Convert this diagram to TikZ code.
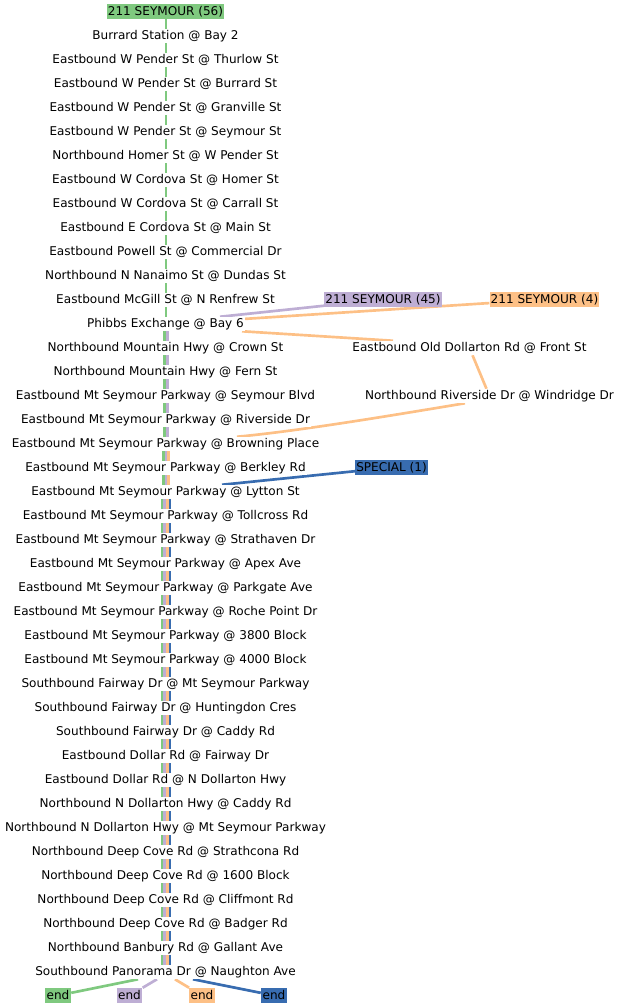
\documentclass[tikz,border=0pt]{standalone}
\usepackage{fontspec}
\setmainfont{DejaVu Sans}
\usetikzlibrary{positioning,backgrounds}
\definecolor{routegreen}{HTML}{7FC97F}
\definecolor{routepurple}{HTML}{BEAED4}
\definecolor{routeorange}{HTML}{FDC086}
\definecolor{routeblue}{HTML}{386CB0}
\tikzset{
    stopbox/.style={
        rectangle,
        fill=white,               % hides the route lines behind the text
        inner xsep=0.75pt,
        inner ysep=0pt,
        text height=7.5pt,
        text depth=3pt,
        font=\fontsize{9.05pt}{10pt}\selectfont
    },
    tagbox/.style={
        stopbox,
        text height=8.25pt,
        fill=#1
    },
    route/.style={
        draw=#1,
        line width=2pt
    }
}
\begin{document}
\begin{tikzpicture}[x=0.75pt,y=0.75pt]
    \useasboundingbox (0,0) rectangle (620,-1008);

    \node[tagbox=routegreen] (tagmain) at (165.5,-11.5) {211 SEYMOUR (56)};
    \foreach \stopname [count=\i] in {
        Burrard Station @ Bay 2,
        Eastbound W Pender St @ Thurlow St,
        Eastbound W Pender St @ Burrard St,
        Eastbound W Pender St @ Granville St,
        Eastbound W Pender St @ Seymour St,
        Northbound Homer St @ W Pender St,
        Eastbound W Cordova St @ Homer St,
        Eastbound W Cordova St @ Carrall St,
        Eastbound E Cordova St @ Main St,
        Eastbound Powell St @ Commercial Dr,
        Northbound N Nanaimo St @ Dundas St,
        Eastbound McGill St @ N Renfrew St,
        Phibbs Exchange @ Bay 6,
        Northbound Mountain Hwy @ Crown St,
        Northbound Mountain Hwy @ Fern St,
        Eastbound Mt Seymour Parkway @ Seymour Blvd,
        Eastbound Mt Seymour Parkway @ Riverside Dr,
        Eastbound Mt Seymour Parkway @ Browning Place,
        Eastbound Mt Seymour Parkway @ Berkley Rd,
        Eastbound Mt Seymour Parkway @ Lytton St,
        Eastbound Mt Seymour Parkway @ Tollcross Rd,
        Eastbound Mt Seymour Parkway @ Strathaven Dr,
        Eastbound Mt Seymour Parkway @ Apex Ave,
        Eastbound Mt Seymour Parkway @ Parkgate Ave,
        Eastbound Mt Seymour Parkway @ Roche Point Dr,
        Eastbound Mt Seymour Parkway @ 3800 Block,
        Eastbound Mt Seymour Parkway @ 4000 Block,
        Southbound Fairway Dr @ Mt Seymour Parkway,
        Southbound Fairway Dr @ Huntingdon Cres,
        Southbound Fairway Dr @ Caddy Rd,
        Eastbound Dollar Rd @ Fairway Dr,
        Eastbound Dollar Rd @ N Dollarton Hwy,
        Northbound N Dollarton Hwy @ Caddy Rd,
        Northbound N Dollarton Hwy @ Mt Seymour Parkway,
        Northbound Deep Cove Rd @ Strathcona Rd,
        Northbound Deep Cove Rd @ 1600 Block,
        Northbound Deep Cove Rd @ Cliffmont Rd,
        Northbound Deep Cove Rd @ Badger Rd,
        Northbound Banbury Rd @ Gallant Ave,
        Southbound Panorama Dr @ Naughton Ave}
        \node[stopbox] (stop\i) at (165.5,{-12-24*\i}) {\stopname};

    \node[tagbox=routepurple] (tagpurple) at (383,-299.5) {211 SEYMOUR (45)};
    \node[tagbox=routeorange] (tagorange) at (544.5,-299.5) {211 SEYMOUR (4)};
    \node[tagbox=routeblue] (tagblue) at (391.5,-467.5) {SPECIAL (1)};
    \node[stopbox] (dollarton) at (469.5,-348) {Eastbound Old Dollarton Rd @ Front St};
    \node[stopbox] (riverside) at (489.5,-396) {Northbound Riverside Dr @ Windridge Dr};

    \node[tagbox=routegreen, inner xsep=1.2pt] (endgreen) at (58,-995.5) {end};
    \node[tagbox=routepurple, inner xsep=1.2pt] (endpurple) at (129.5,-995.5) {end};
    \node[tagbox=routeorange, inner xsep=1.2pt] (endorange) at (202,-995.5) {end};
    \node[tagbox=routeblue, inner xsep=1.2pt] (endblue) at (274,-995.5) {end};

    \begin{scope}[on background layer]
        \draw[route=routegreen] ([xshift=0.4pt]tagmain.south) -- ([xshift=0.4pt]stop1.north);
        % runs of the shared trunk, side by side
        \foreach \first/\last/\col/\off in {
            1/12/routegreen/0.4, 13/17/routegreen/-0.6, 18/19/routegreen/-1.6, 20/39/routegreen/-2.6,
            13/17/routepurple/1.4, 18/19/routepurple/0.4, 20/39/routepurple/-0.6,
            18/19/routeorange/2.4, 20/39/routeorange/1.4,
            20/39/routeblue/3.4} {
            \foreach \i in {\first,...,\last} {
                \pgfmathtruncatemacro{\j}{\i+1}
                \draw[route=\col] ([xshift=\off pt]stop\i.south) -- ([xshift=\off pt]stop\j.north);
            }
        }
        \draw[route=routepurple] ([xshift=40.9pt]stop13.north) -- (tagpurple);
        \draw[route=routeorange] (tagorange) -- (stop13);
        \draw[route=routeorange] ([xshift=57.4pt]stop13.south) -- ([xshift=-57.4pt]dollarton.north);
        \draw[route=routeorange] (dollarton) -- (riverside);
        \draw[route=routeorange] ([xshift=-18.4pt]riverside.south) .. controls (400,-414) and (300,-431) .. ([xshift=53.6pt]stop18.north);
        \draw[route=routeblue] (tagblue) -- ([xshift=42.4pt]stop20.north);

        \draw[route=routegreen] ([xshift=-20.6pt]stop40.south) -- (endgreen);
        \draw[route=routepurple] ([xshift=-6.4pt]stop40.south) -- (endpurple);
        \draw[route=routeorange] ([xshift=7.1pt]stop40.south) -- (endorange);
        \draw[route=routeblue] ([xshift=20.6pt]stop40.south) -- (endblue);
    \end{scope}
\end{tikzpicture}
\end{document}
